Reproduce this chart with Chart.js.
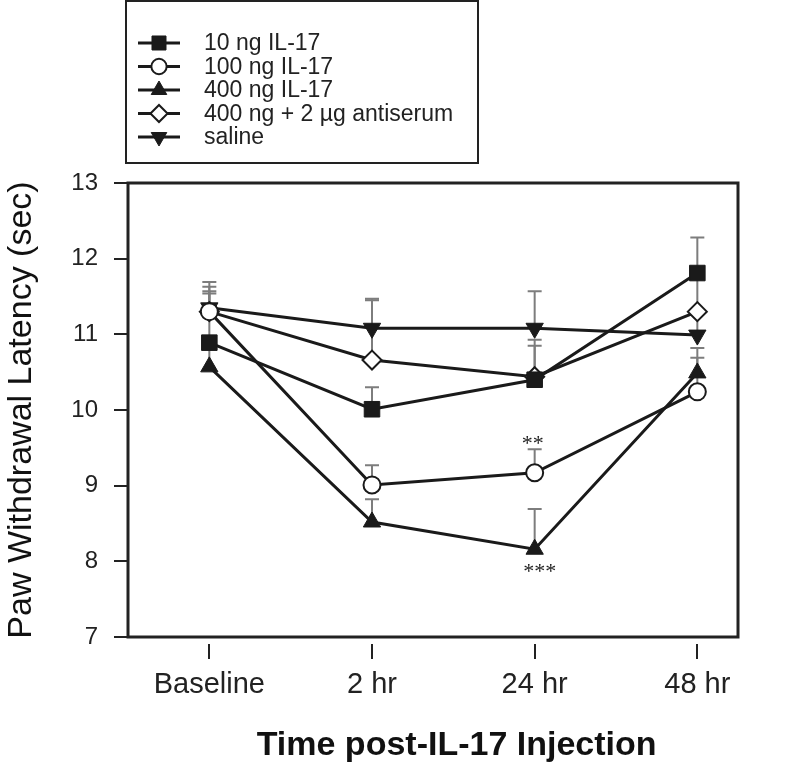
<!DOCTYPE html>
<html>
<head>
<meta charset="utf-8">
<script src="https://cdn.jsdelivr.net/npm/chart.js@4"></script>
<style>
  html, body { margin: 0; padding: 0; background: #fff; }
  #wrap { width: 800px; height: 780px; }
</style>
</head>
<body>
<div id="wrap"><canvas id="latencyChart" width="800" height="780"></canvas></div>
<script>
/* Paw withdrawal latency after IL-17 injection */

const timeLabels = ["Baseline", "2 hr", "24 hr", "48 hr"];
const yTicks = [7, 8, 9, 10, 11, 12, 13];

const seriesNames = ["10 ng IL-17", "100 ng IL-17", "400 ng IL-17", "400 ng + 2 µg antiserum", "saline"];

const il17_10 = [10.89, 10.01, 10.40, 11.81];
const il17_10Se = [0.65, 0.29, 0.45, 0.47];

const il17_100 = [11.30, 9.01, 9.17, 10.24];
const il17_100Se = [0.27, 0.26, 0.31, 0.45];

const il17_400 = [10.57, 8.52, 8.16, 10.49];
const il17_400Se = [0.30, 0.30, 0.53, 0.33];

const antiserum = [11.30, 10.66, 10.44, 11.30];
const antiserumSe = [0.33, 0.79, 0.49, 0.45];

const saline = [11.35, 11.08, 11.08, 10.99];
const salineSe = [0.34, 0.39, 0.49, 0.29];

// significance marks: [dataset index, time index, text, above/below]
const sigMarks = [
  [1, 2, "**", "above"],
  [2, 2, "***", "below"],
];

const INK = "#1a1a1a";
const ERR = "#7d7d7d";
const FONT = "'Liberation Sans', Arial, sans-serif";

function pts(vals) {
  return vals.map((v, i) => ({ x: i, y: v }));
}

function series(label, vals, se, style, open, radius, rotation) {
  return {
    label,
    data: pts(vals),
    se,
    borderColor: INK,
    borderWidth: 3,
    tension: 0,
    fill: false,
    pointStyle: style,
    pointRadius: radius,
    pointRotation: rotation || 0,
    pointBackgroundColor: open ? "#fff" : INK,
    pointBorderColor: INK,
    pointBorderWidth: open ? 2 : 1,
  };
}

const frameAndErrors = {
  id: "frameAndErrors",
  beforeDatasetsDraw(chart) {
    const { ctx, chartArea: a, scales } = chart;
    ctx.save();
    // error bars (upper only)
    ctx.strokeStyle = ERR;
    ctx.lineWidth = 2;
    chart.data.datasets.forEach((ds) => {
      ds.data.forEach((p, i) => {
        const x = scales.x.getPixelForValue(p.x);
        const y0 = scales.y.getPixelForValue(p.y);
        const y1 = scales.y.getPixelForValue(p.y + ds.se[i]);
        ctx.beginPath();
        ctx.moveTo(x, y0);
        ctx.lineTo(x, y1);
        ctx.moveTo(x - 7, y1);
        ctx.lineTo(x + 7, y1);
        ctx.stroke();
      });
    });
    // plot frame
    ctx.strokeStyle = "#222";
    ctx.lineWidth = 3;
    ctx.strokeRect(a.left, a.top, a.right - a.left, a.bottom - a.top);
    ctx.restore();
  },
  afterDatasetsDraw(chart) {
    const { ctx, scales } = chart;
    ctx.save();
    // significance asterisks
    ctx.fillStyle = "#222";
    ctx.font = "22px 'Liberation Serif', 'DejaVu Serif', serif";
    ctx.textAlign = "center";
    sigMarks.forEach(([d, i, txt, pos]) => {
      const ds = chart.data.datasets[d];
      const x = scales.x.getPixelForValue(i);
      if (pos === "above") {
        const y = scales.y.getPixelForValue(ds.data[i].y + ds.se[i]);
        ctx.textBaseline = "alphabetic";
        ctx.fillText(txt, x - 2, y + 1);
      } else {
        const y = scales.y.getPixelForValue(ds.data[i].y);
        ctx.textBaseline = "top";
        ctx.fillText(txt, x + 5, y + 12);
      }
    });

    // legend box
    ctx.strokeStyle = "#222";
    ctx.lineWidth = 2;
    ctx.strokeRect(126, 1, 352, 162);
    ctx.font = "23px " + FONT;
    ctx.textAlign = "left";
    ctx.textBaseline = "middle";
    chart.data.datasets.forEach((ds, k) => {
      const y = 43 + k * 23.5;
      ctx.strokeStyle = INK;
      ctx.lineWidth = 3;
      ctx.beginPath();
      ctx.moveTo(138, y);
      ctx.lineTo(180, y);
      ctx.stroke();
      ctx.fillStyle = ds.pointBackgroundColor;
      ctx.strokeStyle = INK;
      ctx.lineWidth = ds.pointBorderWidth;
      Chart.helpers.drawPoint(ctx, {
        pointStyle: ds.pointStyle,
        radius: ds.pointRadius * 0.9,
        rotation: ds.pointRotation,
        borderWidth: ds.pointBorderWidth,
      }, 159, y);
      ctx.fillStyle = "#222";
      ctx.fillText(ds.label, 204, y + 1);
    });
    ctx.restore();
  },
};

new Chart(document.getElementById("latencyChart"), {
  type: "line",
  data: {
    datasets: [
      series(seriesNames[0], il17_10, il17_10Se, "rect", false, 11),
      series(seriesNames[1], il17_100, il17_100Se, "circle", true, 8.5),
      series(seriesNames[2], il17_400, il17_400Se, "triangle", false, 10),
      series(seriesNames[3], antiserum, antiserumSe, "rectRot", true, 9.5),
      series(seriesNames[4], saline, salineSe, "triangle", false, 10, 180),
    ],
  },
  options: {
    responsive: false,
    animation: false,
    events: [],
    layout: { padding: { left: 0, top: 183, right: 62, bottom: 0 } },
    plugins: { legend: { display: false }, tooltip: { enabled: false } },
    scales: {
      x: {
        type: "linear",
        min: -0.5,
        max: 3.25,
        afterBuildTicks: (s) => { s.ticks = timeLabels.map((_, i) => ({ value: i })); },
        afterFit: (s) => { s.height = 143; },
        border: { display: false },
        grid: {
          drawOnChartArea: false,
          drawTicks: true,
          tickLength: 22,
          tickBorderDash: [0, 7, 15, 100],
          color: "#222",
          lineWidth: 2,
        },
        ticks: {
          callback: (v) => timeLabels[v],
          color: "#222",
          padding: 9,
          maxRotation: 0,
          autoSkip: false,
          font: { family: FONT, size: 29 },
        },
        title: {
          display: true,
          // leading spaces nudge the title right, as in the original figure
          text: "\u00a0\u00a0\u00a0\u00a0\u00a0Time post-IL-17 Injection",
          color: "#111",
          font: { family: FONT, size: 34, weight: "bold" },
          padding: { top: 0, bottom: 14 },
        },
      },
      y: {
        min: 7,
        max: 13,
        afterBuildTicks: (s) => { s.ticks = yTicks.map((v) => ({ value: v })); },
        afterFit: (s) => { s.width = 128; },
        border: { display: false },
        grid: {
          drawOnChartArea: false,
          drawTicks: true,
          tickLength: 14,
          color: "#222",
          lineWidth: 2,
        },
        ticks: {
          color: "#222",
          padding: 16,
          font: { family: FONT, size: 24 },
        },
        title: {
          display: true,
          text: "Paw Withdrawal Latency (sec)",
          color: "#111",
          font: { family: FONT, size: 34 },
          padding: { top: 1, bottom: 0 },
        },
      },
    },
  },
  plugins: [frameAndErrors],
});
</script>
</body>
</html>
